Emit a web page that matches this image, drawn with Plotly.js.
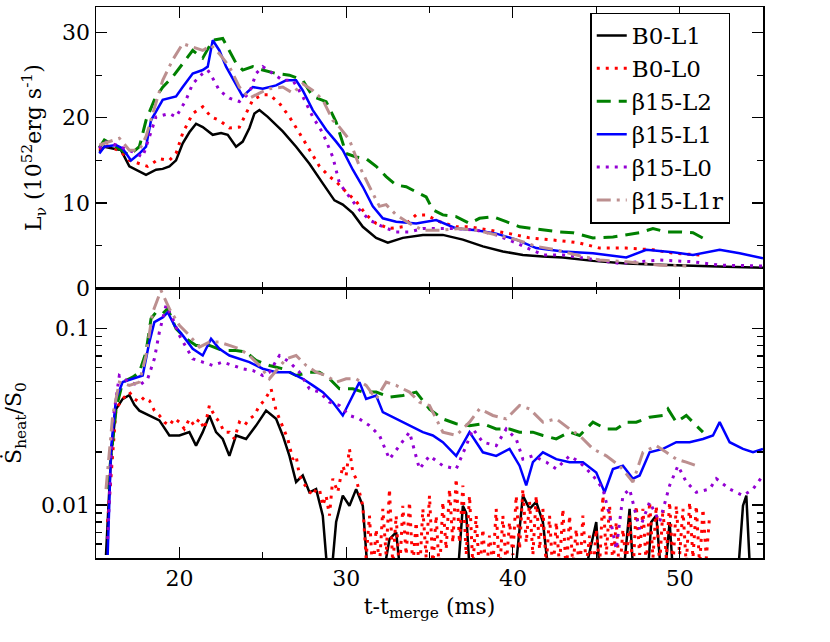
<!DOCTYPE html>
<html>
<head>
<meta charset="utf-8">
<script src="https://cdn.plot.ly/plotly-3.0.1.min.js"></script>
<style>
  body { margin: 0; background: #fff; }
  #chartDiv { width: 830px; height: 642px; }
</style>
</head>
<body>
<div id="chartDiv"></div>
<script>
// ---- top panel: L_nu (10^52 erg/s) vs t - t_merge (ms) ----
const tB0L1 = [15.2,15.5,16,16.5,17,17.5,18,18.6,19,19.4,19.8,20.2,20.6,21,21.4,22,22.5,22.9,23.4,23.8,24.2,24.5,24.8,25.3,25.8,26.2,27,27.8,28.6,29.3,29.8,30.4,31,31.8,32.5,33.4,34.6,35.8,37,38.2,39.4,40.6,41.8,43,44.8,46.8,48.8,50.8,52.8,55];
const lB0L1 = [16.0,16.6,16.4,16.2,14.3,13.8,13.3,13.9,14.0,14.3,15.0,17.0,18.3,19.3,18.9,18.0,18.2,18.0,16.6,17.2,18.8,20.5,20.9,20.1,19.2,18.4,16.6,14.6,12.3,10.3,9.8,8.8,7.2,5.9,5.35,5.9,6.25,6.25,5.7,4.9,4.3,3.9,3.7,3.6,3.2,2.9,2.75,2.6,2.5,2.4];

const tB0L0 = [15.2,15.5,16,16.5,17,17.6,18.1,18.5,18.8,19.4,19.8,20.2,20.8,21.4,21.9,22.4,23,23.6,23.9,24.4,25,25.4,26,26.6,27.2,27.8,28.4,29,29.4,30,30.6,31.2,31.8,32.6,33.4,34.2,34.8,35.6,36.6,37.4,38.6,39.8,41,42.2,43.2,44,45.2,46.8,48.4,49.6,51.2];
const lB0L0 = [16.2,16.8,16.5,16.0,15.0,14.6,14.3,14.8,15.2,15.0,15.8,18.2,20.5,21.3,20.1,19.7,18.8,18.9,20.1,22.1,22.7,22.7,21.7,20.1,18.2,16.2,14.3,13.1,12.5,11.3,10.2,8.6,7.6,7.0,7.2,8.6,8.6,7.8,7.2,7.2,6.8,6.4,5.9,5.7,5.5,5.3,4.7,4.7,4.5,4.1,3.9];

const tB15L2 = [15.2,15.5,16.2,17,17.6,18,18.5,19,19.6,20.2,20.8,21.4,22,22.6,23,23.4,23.8,24.4,25,25.8,26.6,27.4,28,28.8,29.4,30,30.6,31.2,31.8,32.4,33,33.6,34.2,34.8,35.2,35.8,36.6,37.4,38,38.8,39.6,40.4,41.2,42,42.8,43.6,44.8,46,46.8,47.6,48.4,49.2,50,50.8,51.6];
const lB15L2 = [16.5,17.4,16.6,15.6,16.6,19.7,22.1,23.6,24.8,26.4,27.9,27.0,29.1,29.3,27.9,26.4,25.6,26.0,25.6,25.2,25.0,24.4,22.5,21.9,19.5,15.8,15.4,15.2,14.3,13.1,12.1,11.9,11.3,10.7,9.2,8.6,8.4,7.6,8.2,8.4,7.8,7.2,7.0,6.8,6.6,6.5,5.9,6.0,6.25,6.5,7.0,6.6,6.6,6.5,5.65];

const tB15L1 = [15.2,15.5,16.2,16.6,17.1,17.6,18,18.3,19,19.8,20.2,20.8,21.4,21.7,22,22.4,22.8,23.4,23.8,24.4,25,25.8,26.4,27,27.4,28,28.8,29.4,29.8,30.4,31,31.6,32.2,33,34.2,35.4,36.6,37.8,39,40.2,41.4,43,44.8,46.8,48,49.6,50.8,52.4,53.6,55];
const lB15L1 = [15.8,16.6,16.8,16.4,15.0,15.8,16.6,19.7,22.1,22.5,23.6,25.2,25.6,26.0,29.1,27.9,26.0,24.0,22.5,23.6,23.4,23.8,24.4,24.4,23.2,20.9,18.6,17.2,16.2,13.9,11.9,9.6,8.2,7.8,7.6,8.0,7.0,6.8,6.4,5.7,4.7,4.3,4.1,3.6,4.5,4.2,3.9,4.5,4.1,3.5];

const tB15L0 = [15.2,15.5,16.2,17.2,17.8,18.2,18.6,19.4,19.8,20.4,20.8,21.4,21.7,21.9,22.4,23,23.6,24.2,24.6,25,25.6,26.2,26.8,27.4,28,28.6,29.2,29.6,30.2,30.8,31.4,32.2,33,33.8,34.6,35.4,36.6,37.8,39,40.2,41.8,43,44.8,46.4,48.8,50.8,52.4,55];
const lB15L0 = [16.4,17.2,16.8,16.0,15.4,17.8,20.1,20.5,20.1,22.1,24.0,25.2,25.6,25.0,23.2,22.3,21.9,22.9,25.2,26.0,25.2,24.4,24.4,22.5,20.1,18.2,15.4,12.3,10.7,9.2,8.0,7.2,6.6,6.6,7.0,7.0,7.0,6.8,6.25,5.3,3.9,3.9,3.4,2.9,3.3,3.1,2.7,2.6];

const tB15L1r = [15.2,15.5,16.4,17,17.6,18,18.4,19,19.6,20.2,20.8,21.4,21.9,22.4,23,23.6,24.2,24.8,25.4,26.2,26.8,27.4,28,28.6,29.2,29.6,30.2,30.8,31.4,32,32.4,33,33.8,34.6,35.6,36.8,37.8,39,40.2,41.4,42.6,44,45.2,46.8,48.8,50.4];
const lB15L1r = [16.8,17.0,17.6,16.2,16.2,17.8,20.5,24.4,26.8,28.7,28.3,27.9,28.5,27.5,26.0,23.6,22.3,22.9,23.4,23.6,22.9,24.0,23.2,22.1,19.7,18.9,17.4,14.3,11.9,9.6,9.8,8.6,7.6,6.8,6.8,7.0,6.8,6.25,5.7,4.9,4.5,3.8,3.3,3.1,2.7,2.6];

// ---- bottom panel: S_heat dot / S_0 (log) ----
const sB0L1_t = [15.6,15.9,16.2,16.6,17,17.3,17.6,18.2,18.8,19.4,20,20.6,21,21.4,21.8,22.2,22.6,23,23.4,24,24.6,25.2,25.8,26.2,26.6,27,27.4,27.8,28.2,28.6,29,29.4,29.8,30.2,30.6,31,31.4,32,32.6,33,33.4,34,35,36.6,37,37.2,37.5,38,40,40.6,41,41.4,41.8,42.3,44,45,45.3,46.5,47,47.3,48,48.3,48.6,49,49.4,49.7,51,53.4,53.8,54,54.3,55];
const sB0L1 = [0.0052,0.019,0.035,0.040,0.042,0.037,0.0343,0.0322,0.0302,0.0248,0.0248,0.0259,0.0217,0.0259,0.0322,0.0259,0.0237,0.019,0.0248,0.0237,0.0282,0.0343,0.0308,0.0248,0.019,0.0135,0.0147,0.0118,0.0123,0.0087,0.003,0.008,0.0113,0.0099,0.0123,0.0099,0.003,0.003,0.0064,0.007,0.003,0.003,0.003,0.003,0.0099,0.009,0.003,0.003,0.003,0.0113,0.0095,0.0104,0.008,0.003,0.003,0.008,0.003,0.003,0.0095,0.003,0.003,0.008,0.0087,0.003,0.008,0.003,0.003,0.003,0.0099,0.0113,0.003,0.003];

const sB0L0_t = [15.7,16.2,16.6,17,17.3,17.6,17.9,18.2,18.5,18.8,
  19.1,19.4,19.7,20,20.3,20.6,20.9,21.2,21.5,21.8,
  22.1,22.4,22.7,23,23.3,23.6,23.9,24.2,24.5,24.8,
  25.1,25.5,25.8,26,26.3,26.5,26.8,27,27.2,27.4,
  27.7,28,28.2,28.4,28.6,28.8,29,29.2,29.5,29.8,
  30,30.2,30.4,30.6,30.8,
  31,31.2,31.4,31.6,31.8,32,32.2,32.4,32.6,32.8,
  33,33.2,33.4,33.6,33.8,34,34.2,34.4,34.6,34.8,
  35,35.2,35.4,35.6,35.8,36,36.2,36.4,36.6,36.8,
  37,37.2,37.4,37.6,37.8,38,38.2,38.4,38.6,38.8,
  39,39.2,39.4,39.6,39.8,40,40.2,40.4,40.6,40.8,
  41,41.2,41.4,41.6,41.8,42,42.2,42.4,42.6,42.8,
  43,43.2,43.4,43.6,43.8,44,44.2,44.4,44.6,44.8,
  45,45.2,45.4,45.6,45.8,46,46.2,46.4,46.6,46.8,
  47,47.2,47.4,47.6,47.8,48,48.2,48.4,48.6,48.8,
  49,49.2,49.4,49.6,49.8,50,50.2,50.4,50.6,50.8,
  51,51.2,51.4,51.6,51.8];
const sB0L0 = [0.008,0.035,0.040,0.0437,0.040,0.0383,0.0409,0.0392,0.0343,0.0322,
  0.0295,0.0282,0.031,0.0295,0.027,0.0308,0.0282,0.0308,0.027,0.0367,
  0.0322,0.0295,0.0259,0.0259,0.0237,0.0295,0.0282,0.0308,0.0322,0.0367,
  0.0392,0.0456,0.0343,0.0308,0.0259,0.0237,0.0182,0.019,0.0147,0.0135,
  0.0123,0.0113,0.0123,0.0123,0.0099,0.0113,0.0087,0.0141,0.0118,0.0167,
  0.0147,0.0208,0.0153,0.0141,0.0118,
  0.0099,0.005,0.0087,0.004,0.0073,0.0045,0.0095,0.0052,0.0123,0.0045,
  0.0087,0.004,0.0099,0.0052,0.0104,0.0045,0.008,0.004,0.0095,0.005,
  0.0113,0.0045,0.0087,0.004,0.0104,0.0056,0.0123,0.0061,0.0141,0.0061,
  0.0129,0.0052,0.0113,0.0045,0.0087,0.004,0.0073,0.004,0.0067,0.0045,
  0.0095,0.004,0.0087,0.0045,0.008,0.0052,0.0113,0.0056,0.0123,0.0061,
  0.0104,0.0052,0.0113,0.0056,0.0095,0.0045,0.0087,0.004,0.008,0.0045,
  0.0095,0.004,0.0087,0.0045,0.0073,0.004,0.0087,0.0045,0.0067,0.004,
  0.0073,0.0045,0.0113,0.0052,0.0099,0.0045,0.008,0.004,0.0073,0.0045,
  0.0087,0.004,0.0099,0.0052,0.0095,0.0045,0.0104,0.005,0.0099,0.0045,
  0.0095,0.005,0.0104,0.0045,0.0099,0.0052,0.0095,0.0045,0.0104,0.005,
  0.0099,0.0045,0.0095,0.005,0.0087];

const sB15L2_t = [15.7,16.2,16.6,17.2,17.6,18,18.3,18.6,19,19.3,19.8,20.4,21,21.8,22.6,23.4,24,24.6,25.4,26.2,27,27.8,28.4,29,29.6,30.4,31,31.8,32.6,33.4,34.2,35,35.8,36.6,37.4,38.2,39,39.8,40.4,41.2,41.8,42.6,43.4,44,44.8,45.6,46.2,46.8,47.4,48.2,49,49.3,49.8,50.4,51,51.4];
const sB15L2 = [0.0123,0.0351,0.0498,0.0531,0.0567,0.0737,0.114,0.124,0.122,0.130,0.100,0.0878,0.0804,0.0804,0.0753,0.0753,0.0737,0.0661,0.0619,0.0593,0.0543,0.0567,0.0567,0.052,0.0456,0.0456,0.0437,0.0437,0.0409,0.0418,0.0437,0.035,0.0308,0.0289,0.0282,0.0289,0.027,0.027,0.0259,0.0259,0.0248,0.0237,0.0259,0.0248,0.0295,0.027,0.027,0.0295,0.0295,0.0315,0.0322,0.0351,0.0295,0.0322,0.0282,0.0259];

const sB15L1_t = [15.7,15.9,16.2,16.6,17.2,17.8,18.2,18.5,19,19.3,19.7,20.2,20.8,21.4,21.9,22.4,23,23.6,24.2,25,25.8,26.6,27.4,28,28.6,29.2,29.8,30.4,30.8,31.2,31.8,32.2,33,33.8,34.6,35.2,35.8,36.6,37.4,38.2,39,39.8,40.4,40.8,41.2,41.8,42.6,43.4,44.2,45,45.5,46,46.6,47.2,47.6,48.2,49,49.8,50.6,51.4,52,52.4,53,53.8,54.4,55];
const sB15L1 = [0.0052,0.0208,0.040,0.0498,0.052,0.0543,0.084,0.109,0.116,0.124,0.1045,0.0917,0.077,0.0705,0.0878,0.077,0.0705,0.0675,0.0647,0.0593,0.0567,0.0567,0.052,0.0477,0.0437,0.0383,0.0322,0.0418,0.0498,0.040,0.0418,0.0336,0.0308,0.0282,0.0259,0.0248,0.0227,0.019,0.0259,0.0199,0.019,0.0208,0.0167,0.0129,0.0175,0.0199,0.0182,0.0175,0.0175,0.0153,0.0118,0.016,0.0167,0.0141,0.0147,0.0199,0.0208,0.0227,0.0227,0.0237,0.0248,0.0295,0.0227,0.0208,0.0199,0.0208];

const sB15L0_t = [15.7,16,16.4,17,17.6,18.1,18.5,18.8,19.2,19.6,20,20.4,20.8,21.4,22,22.6,23.2,23.8,24.4,25,25.4,26,26.6,27.2,27.8,28.4,29,29.6,30.2,30.8,31.4,32,32.6,33.2,33.8,34.4,35,35.8,36.6,37.2,37.6,38.2,39,39.6,40.2,40.6,41.2,42,42.6,43.4,44,44.8,45.4,45.8,46.2,46.6,47,47.6,48.2,48.8,49.4,49.9,50.4,51,51.8,52.2,53,53.8,54.4,55];
const sB15L0 = [0.0064,0.0295,0.0543,0.0498,0.0477,0.052,0.0675,0.0957,0.136,0.114,0.0917,0.0787,0.0675,0.0647,0.0619,0.0647,0.0619,0.0593,0.058,0.0543,0.0567,0.0705,0.0647,0.0567,0.0456,0.0437,0.0383,0.0367,0.0322,0.0308,0.0282,0.0248,0.0182,0.0217,0.0259,0.016,0.019,0.0167,0.016,0.0217,0.027,0.0227,0.0217,0.027,0.0237,0.0182,0.019,0.0175,0.016,0.019,0.0175,0.0147,0.0123,0.0087,0.0056,0.0113,0.0123,0.0073,0.0104,0.008,0.0129,0.0167,0.0135,0.0118,0.0123,0.0141,0.0123,0.0113,0.0123,0.0147];

const sB15L1r_t = [15.6,16,16.4,17,17.6,18,18.4,18.9,19.4,20,20.6,21.2,21.8,22.4,23,23.6,24.2,24.8,25.4,25.9,26.4,27,27.6,28.2,28.8,29.4,30,30.6,31.2,31.8,32.4,33,33.8,34.4,35,35.8,36.6,37.4,38,38.8,39.6,40.4,41,41.8,42.6,43.4,44,44.8,45.6,46.4,47.2,47.8,48.6,49.2,49.8,50.4,51];
const sB15L1r = [0.0123,0.0322,0.0498,0.0477,0.0498,0.0705,0.124,0.165,0.130,0.1045,0.0917,0.0787,0.084,0.084,0.0804,0.077,0.0705,0.0619,0.052,0.0593,0.0675,0.0705,0.0619,0.0567,0.0543,0.0498,0.052,0.052,0.0477,0.040,0.0498,0.0477,0.0437,0.0383,0.0367,0.0259,0.0248,0.0295,0.0351,0.0322,0.0308,0.0367,0.0351,0.0295,0.0308,0.027,0.0248,0.0208,0.019,0.0167,0.0135,0.0199,0.0217,0.0199,0.0182,0.0175,0.0167];

const names = ['B0-L1', 'B0-L0', '\u03b215-L2', '\u03b215-L1', '\u03b215-L0', '\u03b215-L1r'];
const styles = [
  { color: '#000000', width: 2.5, dash: 'solid' },
  { color: '#ff0000', width: 3, dash: '3px,6px' },
  { color: '#008000', width: 3, dash: '14px,8px' },
  { color: '#0000ff', width: 2.5, dash: 'solid' },
  { color: '#9400d3', width: 3, dash: '3px,6px' },
  { color: '#bc8f8f', width: 3, dash: '14px,6px,3px,6px' }
];
const topT = [tB0L1, tB0L0, tB15L2, tB15L1, tB15L0, tB15L1r];
const topL = [lB0L1, lB0L0, lB15L2, lB15L1, lB15L0, lB15L1r];
const botT = [sB0L1_t, sB0L0_t, sB15L2_t, sB15L1_t, sB15L0_t, sB15L1r_t];
const botS = [sB0L1, sB0L0, sB15L2, sB15L1, sB15L0, sB15L1r];

const data = [];
names.forEach(function (n, i) {
  data.push({ x: topT[i], y: topL[i], type: 'scatter', mode: 'lines', name: n,
    line: styles[i], xaxis: 'x2', yaxis: 'y2' });
});
names.forEach(function (n, i) {
  data.push({ x: botT[i], y: botS[i], type: 'scatter', mode: 'lines', name: n,
    showlegend: false, line: styles[i], xaxis: 'x', yaxis: 'y' });
});

const serif = 'DejaVu Serif';
const split = 270 / 551.3;
const axisBase = {
  showline: true, linecolor: '#000', linewidth: 1.5, mirror: 'allticks',
  ticks: 'inside', ticklen: 11, tickwidth: 1.2, tickcolor: '#000',
  showgrid: false, zeroline: false,
  tickfont: { family: serif, size: 22, color: '#000' }
};

const layout = {
  width: 830, height: 642,
  margin: { l: 96, r: 67, t: 7, b: 84 },
  paper_bgcolor: '#fff', plot_bgcolor: '#fff',
  font: { family: serif, color: '#000' },
  showlegend: true,
  legend: {
    x: 0.741, y: 0.99, xanchor: 'left', yanchor: 'top',
    bgcolor: '#fff', bordercolor: '#000', borderwidth: 1.5,
    font: { family: serif, size: 23, color: '#000' },
    tracegroupgap: 0
  },
  xaxis: Object.assign({}, axisBase, {
    domain: [0, 1], anchor: 'y', range: [15, 55], dtick: 10, tick0: 0,
    minor: { ticks: 'inside', ticklen: 6, dtick: 5, tick0: 0, tickcolor: '#000', showgrid: false },
    title: { text: 't-t<sub>merge</sub> (ms)', font: { family: serif, size: 22 }, standoff: 8 }
  }),
  yaxis: Object.assign({}, axisBase, {
    domain: [0, split], anchor: 'x', type: 'log',
    range: [Math.log10(0.005), Math.log10(0.17)],
    tickvals: [0.01, 0.1], ticktext: ['0.01', '0.1'],
    minor: { ticks: 'inside', ticklen: 6, tickcolor: '#000', showgrid: false,
      tickvals: [0.006, 0.007, 0.008, 0.009, 0.02, 0.03, 0.04, 0.05, 0.06, 0.07, 0.08, 0.09] },
    title: { text: '\u1e60<sub>heat</sub>/S<sub>0</sub>', font: { family: serif, size: 22 }, standoff: 14 }
  }),
  xaxis2: Object.assign({}, axisBase, {
    domain: [0, 1], anchor: 'y2', matches: 'x', range: [15, 55], dtick: 10, tick0: 0,
    showticklabels: false,
    minor: { ticks: 'inside', ticklen: 6, dtick: 5, tick0: 0, tickcolor: '#000', showgrid: false }
  }),
  yaxis2: Object.assign({}, axisBase, {
    domain: [split, 1], anchor: 'x2', range: [0, 33], dtick: 10, tick0: 0,
    minor: { ticks: 'inside', ticklen: 6, dtick: 5, tick0: 0, tickcolor: '#000', showgrid: false },
    title: { text: 'L<sub>\u03bd</sub> (10<sup>52</sup>erg s<sup>-1</sup>)', font: { family: serif, size: 22 }, standoff: 14 }
  })
};

Plotly.newPlot('chartDiv', data, layout, { staticPlot: true, displayModeBar: false });
</script>
</body>
</html>
